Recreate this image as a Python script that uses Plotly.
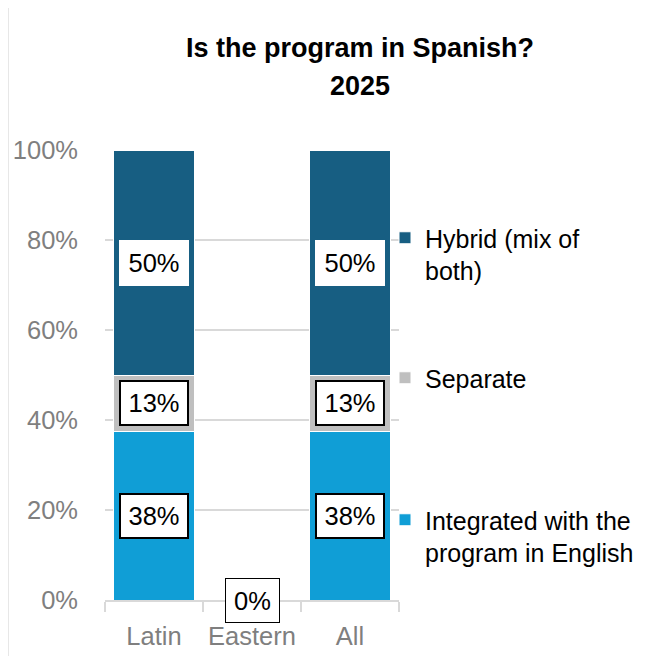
import plotly.graph_objects as go

# ---- data (percent of respondents) ----
categories = ["Latin", "Eastern", "All"]
integrated = [37.5, 0, 37.5]   # Integrated with the program in English
separate = [12.5, 0, 12.5]     # Separate
hybrid = [50.0, 0, 50.0]       # Hybrid (mix of both)
y_ticks = [0, 20, 40, 60, 80, 100]
y_tick_labels = ["0%", "20%", "40%", "60%", "80%", "100%"]
title_line1 = "Is the program in Spanish?"
title_line2 = "2025"

series = [
    ("Integrated with the<br>program in English", integrated, "#109ED6", "legend3", "black", 2),
    ("Separate", separate, "#BFBFBF", "legend2", "black", 2),
    ("Hybrid (mix of<br>both)", hybrid, "#175E82", "legend", "white", 2),
]

FONT = "Liberation Sans, Arial, sans-serif"
# page body has an 8px margin -> figure drawn 8px right/down
W, H = 637, 648
L, R, T, B = 97, 246, 142, 56
pw = W - L - R
ph = H - T - B


def px_to_paper_x(px):
    return (px - L) / pw


def py_to_paper_y(py):
    return (H - B - py) / ph


fig = go.Figure()
for name, vals, color, leg, _, _ in series:
    fig.add_trace(go.Bar(
        x=categories, y=vals, name=name, legend=leg, showlegend=True,
        marker=dict(color=color, line=dict(color="white", width=1)),
        hoverinfo="skip",
    ))


def pct(v):
    return f"{int(v + 0.5)}%"


annotations = []
for i, cat in enumerate(categories):
    total = sum(s[1][i] for s in series)
    if total == 0:
        annotations.append(dict(
            x=cat, y=0, text=pct(0), showarrow=False,
            font=dict(family=FONT, size=25.5, color="black"),
            bgcolor="white", bordercolor="black", borderwidth=1, borderpad=4,
            width=45, height=35,
        ))
        continue
    base = 0
    for name, vals, color, leg, bcol, bw in series:
        v = vals[i]
        if v > 0:
            annotations.append(dict(
                x=cat, y=base + v / 2, text=pct(v), showarrow=False,
                font=dict(family=FONT, size=25.5, color="black"),
                bgcolor="white", bordercolor=bcol, borderwidth=bw, borderpad=4,
                width=58, height=34,
            ))
        base += v

# second title line
annotations.append(dict(
    text=f"<b>{title_line2}</b>", showarrow=False,
    xref="paper", yref="paper", x=px_to_paper_x(352), y=py_to_paper_y(78),
    xanchor="center", yanchor="middle",
    font=dict(family=FONT, size=27, color="black"),
))

leg_common = dict(
    xref="paper", yref="paper", xanchor="left", yanchor="top", valign="top",
    font=dict(family=FONT, size=25, color="black"), bgcolor="rgba(0,0,0,0)",
    x=px_to_paper_x(377), visible=True,
)

fig.update_layout(
    width=W, height=H,
    margin=dict(l=L, r=R, t=T, b=B, pad=0, autoexpand=False),
    paper_bgcolor="white", plot_bgcolor="white",
    barmode="stack", bargap=0.17,
    showlegend=True,
    title=dict(
        text=f"<b>{title_line1}</b>",
        font=dict(family=FONT, size=27, color="black"),
        x=352 / W, xanchor="center", xref="container",
        y=1 - 40 / H, yanchor="middle", yref="container",
    ),
    font=dict(family=FONT),
    legend=dict(**leg_common, y=py_to_paper_y(207)),
    legend2=dict(**leg_common, y=py_to_paper_y(347)),
    legend3=dict(**leg_common, y=py_to_paper_y(489)),
    xaxis=dict(
        showline=True, linecolor="#D9D9D9", linewidth=2,
        ticks="outside", tickson="boundaries", ticklen=10, tickcolor="#D9D9D9", tickwidth=2,
        tickfont=dict(family=FONT, size=25.5, color="#7F7F7F"),
        ticklabelstandoff=12, showgrid=False,
    ),
    yaxis=dict(
        range=[0, 100], tickvals=y_ticks, ticktext=y_tick_labels,
        showgrid=True, gridcolor="#D9D9D9", gridwidth=1.5, zeroline=False,
        showline=False, ticks="",
        tickfont=dict(family=FONT, size=25.5, color="#7F7F7F"),
        ticklabelstandoff=26,
    ),
    annotations=annotations,
    shapes=[dict(
        type="line", xref="paper", yref="paper",
        x0=px_to_paper_x(0), x1=px_to_paper_x(0),
        y0=py_to_paper_y(0), y1=py_to_paper_y(H),
        line=dict(color="#D0D0D0", width=1),
    )],
)

fig.write_html("out.html")
